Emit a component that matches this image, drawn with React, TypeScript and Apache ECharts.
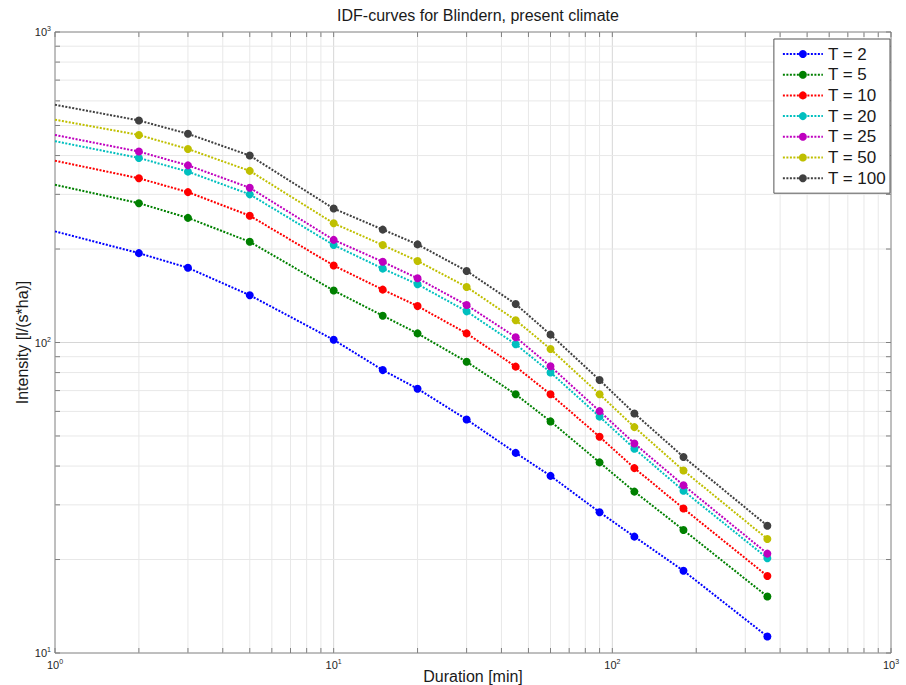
import React, { useEffect, useRef } from "react";
import * as echarts from "echarts";

const durations = [1, 2, 3, 5, 10, 15, 20, 30, 45, 60, 90, 120, 180, 360];
const t2 = [228, 194, 174, 142, 102, 81.5, 71, 56.5, 44.1, 37.2, 28.4, 23.7, 18.4, 11.3];
const t5 = [322, 281, 252, 211, 147, 122, 107, 86.7, 68.1, 55.7, 41.1, 33.1, 24.9, 15.2];
const t10 = [385, 338, 305, 256, 177, 148, 131, 107, 83.6, 68.1, 49.7, 39.4, 29.2, 17.7];
const t20 = [445, 393, 355, 300, 206, 173, 154, 126, 98.7, 80.1, 57.7, 45.5, 33.3, 20.2];
const t25 = [466, 412, 372, 315, 214, 182, 161, 132, 104, 83.8, 60.1, 47.3, 34.7, 20.9];
const t50 = [522, 466, 420, 357, 242, 206, 183, 151, 118, 95.3, 68.1, 53.4, 38.7, 23.3];
const t100 = [583, 519, 470, 400, 270, 231, 207, 170, 133, 106, 75.7, 59.1, 42.8, 25.7];

const seriesNames = ["T = 2", "T = 5", "T = 10", "T = 20", "T = 25", "T = 50", "T = 100"];
const seriesValues = [t2, t5, t10, t20, t25, t50, t100];
const seriesColors = ["#0000ff", "#008000", "#ff0000", "#00bfbf", "#bf00bf", "#bfbf00", "#404040"];

const xTicks = [1, 2, 3, 4, 5, 6, 7, 8, 9, 10, 20, 30, 40, 50, 60, 70, 80, 90, 100, 200, 300, 400, 500, 600, 700, 800, 900, 1000];
const yTicks = [10, 20, 30, 40, 50, 60, 70, 80, 90, 100, 200, 300, 400, 500, 600, 700, 800, 900, 1000];
const xMajor = [1, 10, 100, 1000];
const yMajor = [10, 100, 1000];

const FONT = "'Liberation Sans', Arial, Helvetica, sans-serif";

function powLabel(v: number) {
  const e = Math.round(Math.log10(v));
  return "{b|10}{s|" + e + "}";
}

const richLabel = {
  b: { fontSize: 11, color: "#262626", fontFamily: FONT },
  s: { fontSize: 7, color: "#262626", fontFamily: FONT, verticalAlign: "top", padding: [0, 0, 7, 0] },
};

export default function App() {
  const ref = useRef<HTMLDivElement>(null);
  useEffect(() => {
    if (!ref.current) return;
    const chart = echarts.init(ref.current, undefined, { renderer: "svg" });
    const TICK = 5;
    const gridColorMajor = "#d6d6d6";
    const gridColorMinor = "#e8e8e8";
    const axisColor = "#7f7f7f";

    const vSeries = {
      type: "custom",
      silent: true,
      z: 1,
      data: xTicks.map((x) => [x, 10]),
      renderItem: (params: any, api: any) => {
        const x = api.value(0);
        const b = api.coord([x, 10]);
        const t = api.coord([x, 1000]);
        const major = xMajor.indexOf(x) >= 0;
        const children: any[] = [];
        if (!(x === 1 || x === 1000)) {
          children.push({
            type: "line",
            shape: { x1: b[0], y1: b[1], x2: t[0], y2: t[1] },
            style: { stroke: major ? gridColorMajor : gridColorMinor, lineWidth: 1 },
          });
        }
        children.push({ type: "line", shape: { x1: b[0], y1: b[1], x2: b[0], y2: b[1] - TICK }, style: { stroke: axisColor, lineWidth: 1 } });
        children.push({ type: "line", shape: { x1: t[0], y1: t[1], x2: t[0], y2: t[1] + TICK }, style: { stroke: axisColor, lineWidth: 1 } });
        return { type: "group", children };
      },
    };
    const hSeries = {
      type: "custom",
      silent: true,
      z: 1,
      data: yTicks.map((y) => [1, y]),
      renderItem: (params: any, api: any) => {
        const y = api.value(1);
        const l = api.coord([1, y]);
        const r = api.coord([1000, y]);
        const major = yMajor.indexOf(y) >= 0;
        const children: any[] = [];
        if (!(y === 10 || y === 1000)) {
          children.push({
            type: "line",
            shape: { x1: l[0], y1: l[1], x2: r[0], y2: r[1] },
            style: { stroke: major ? gridColorMajor : gridColorMinor, lineWidth: 1 },
          });
        }
        children.push({ type: "line", shape: { x1: l[0], y1: l[1], x2: l[0] + TICK, y2: l[1] }, style: { stroke: axisColor, lineWidth: 1 } });
        children.push({ type: "line", shape: { x1: r[0], y1: r[1], x2: r[0] - TICK, y2: r[1] }, style: { stroke: axisColor, lineWidth: 1 } });
        return { type: "group", children };
      },
    };

    const lineSeries = seriesNames.map((name, i) => ({
      name,
      type: "line",
      z: 3,
      symbol: "circle",
      symbolSize: 8,
      color: seriesColors[i],
      lineStyle: { width: 2, type: [2, 1.5], color: seriesColors[i] },
      itemStyle: { color: seriesColors[i] },
      data: durations.map((d, j) =>
        j === 0 ? { value: [d, seriesValues[i][j]], symbol: "none" } : { value: [d, seriesValues[i][j]] }
      ),
    }));

    chart.setOption({
      animation: false,
      backgroundColor: "#ffffff",
      textStyle: { fontFamily: FONT },
      title: {
        text: "IDF-curves for Blindern, present climate",
        left: 473,
        textAlign: "center",
        top: 2,
        textStyle: { fontSize: 16, fontWeight: "normal", color: "#1a1a1a", fontFamily: FONT },
      },
      grid: {
        left: 55,
        right: 15,
        top: 32,
        bottom: 32,
        outerBoundsMode: "none",
        containLabel: false,
        show: true,
        borderColor: axisColor,
        borderWidth: 1,
        backgroundColor: "#ffffff",
      },
      legend: {
        orient: "vertical",
        right: 16,
        top: 39,
        data: seriesNames,
        itemWidth: 40,
        itemHeight: 10,
        itemGap: 2.7,
        padding: [6, 4, 6, 8],
        borderColor: "#555",
        borderWidth: 1,
        backgroundColor: "#ffffff",
        textStyle: { fontSize: 17, lineHeight: 18, color: "#1a1a1a", fontFamily: FONT },
      },
      xAxis: {
        type: "log",
        logBase: 10,
        min: 1,
        max: 1000,
        name: "Duration [min]",
        nameLocation: "middle",
        nameGap: 15,
        nameMoveOverlap: false,
        nameTextStyle: { fontSize: 16, color: "#1a1a1a", fontFamily: FONT },
        axisLine: { show: false },
        axisTick: { show: false },
        splitLine: { show: false },
        axisLabel: { formatter: powLabel, rich: richLabel, margin: 5 },
      },
      yAxis: {
        type: "log",
        logBase: 10,
        min: 10,
        max: 1000,
        name: "Intensity [l/(s*ha)]",
        nameLocation: "middle",
        nameGap: 25,
        nameMoveOverlap: false,
        nameTextStyle: { fontSize: 16, color: "#1a1a1a", fontFamily: FONT },
        axisLine: { show: false },
        axisTick: { show: false },
        splitLine: { show: false },
        axisLabel: { formatter: powLabel, rich: richLabel, margin: 4 },
      },
      series: [vSeries, hSeries, ...lineSeries],
    });
    return () => chart.dispose();
  }, []);
  return <div ref={ref} style={{ width: 906, height: 685, position: "absolute", left: 0, top: 0 }} />;
}
